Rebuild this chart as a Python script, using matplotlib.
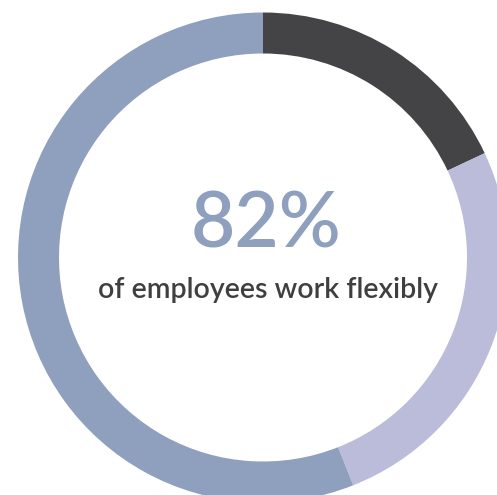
import matplotlib.pyplot as plt

# share of employees by working pattern (dark = not flexible)
labels = ['Not flexible', 'Flexible (part)', 'Flexible (full)']
shares = [18, 26, 56]
colors = ['#444446', '#bbbcd9', '#8f9fbe']
headline = '82%'
caption = 'of employees work flexibly'

W, H = 497, 495
fig = plt.figure(figsize=(W / 100, H / 100), dpi=100)
ax = fig.add_axes([0, 0, 1, 1])

ax.pie(shares, colors=colors, startangle=90, counterclock=False,
       center=(263, H - 257.5), radius=245,
       wedgeprops=dict(width=41, linewidth=0))
ax.set_xlim(0, W)
ax.set_ylim(0, H)
ax.set_aspect('equal')
ax.axis('off')

ax.text(266, H - 226, headline, ha='center', va='center',
        fontsize=55, color='#8f9fbe', family='Lato', weight='semibold')
ax.text(268, H - 290, caption, ha='center', va='center',
        fontsize=20.5, color='#3f3f41', family='Lato', weight='semibold')

fig.savefig('out.png', dpi=100)
